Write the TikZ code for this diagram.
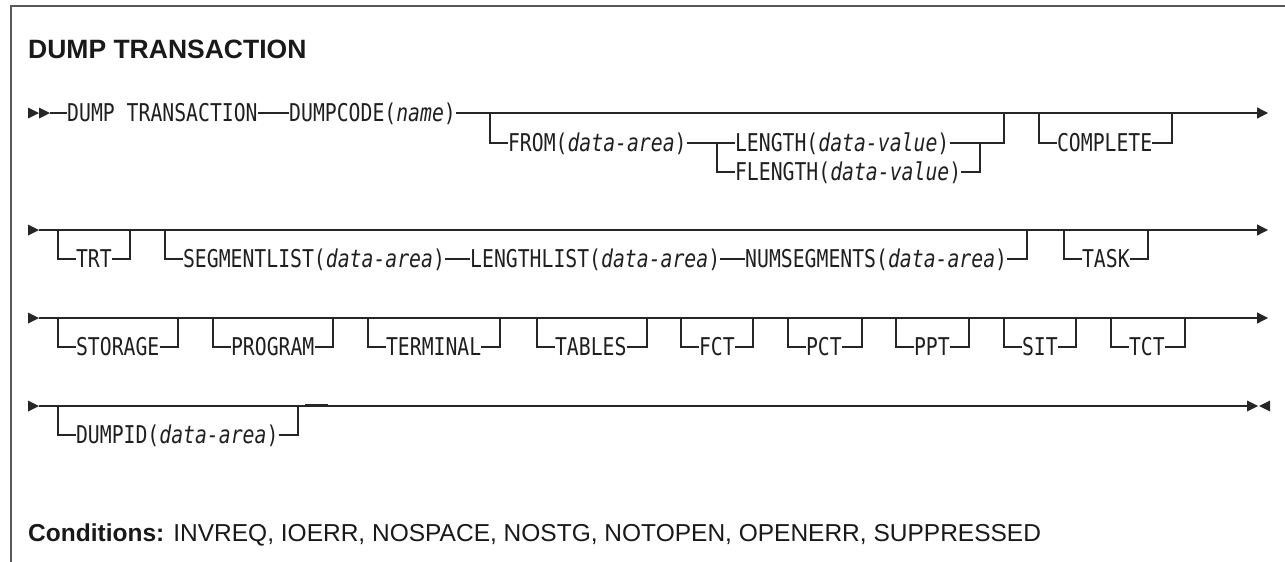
\documentclass[tikz,border=0pt]{standalone}
\usepackage{fontspec}
\setmainfont{Liberation Sans}
\newfontfamily\synfont[FakeStretch=0.807]{DejaVu Sans Mono}
\usetikzlibrary{arrows.meta}
\newcommand\railtri[2]{\fill[tipfill] (#1,#2-5.5) -- ++(11,5.5) -- ++(-11,5.5) -- cycle;}
\newcommand\railtrileft[2]{\fill[tipfill] (#1,#2-5.5) -- ++(-11,5.5) -- ++(11,5.5) -- cycle;}
\newcommand\optitem[6]{%
  \coordinate (#1L) at (#2,#4);
  \coordinate (#1R) at (#3,#4);
  \node[kw] (#1) at (#2+17.85,#5) {#6};
  \draw[rail] (#1L) |- (#1.west);
  \draw[rail] (#1.east) -| (#1R);
}
\begin{document}
\begin{tikzpicture}[x=1pt,y=-1pt,
  kw/.style={font=\synfont\fontsize{24.5}{24.5}\selectfont, inner sep=0pt, text height=17.9pt, text depth=0pt, anchor=west, text=black!88},
  rail/.style={line width=1.3pt, draw=black!85},
  endarrow/.style={-{Triangle[length=11pt,width=11pt]}},
  tipfill/.style={fill=black!85},
  sans/.style={anchor=base west, inner sep=0pt, text=black!90}
]
\useasboundingbox (0,0) rectangle (1285,562);
\draw[line width=2pt, draw=black!65] (1285,6) -- (11,6) -- (11,562);

\node[sans, font=\bfseries\fontsize{26.5}{26.5}\selectfont] (title) at (28,58) {DUMP TRANSACTION};

% ---------- row 1
\railtri{28}{113}\railtri{39}{113}
\coordinate (r1s) at (50,113);
\coordinate (r1e) at (1268,113);
\node[kw] (dt) at (67,113) {DUMP TRANSACTION};
\node[kw] (dc) at (289,113) {DUMPCODE(\textit{name})};
\draw[rail] (r1s) -- (dt.west);
\draw[rail] (dt.east) -- (dc.west);
\draw[rail, endarrow] (dc.east) -- (r1e);

\coordinate (f0) at (490,113);
\node[kw] (from) at (507.85,143) {FROM(\textit{data-area})};
\draw[rail] (f0) |- (from.west);
\coordinate (sp) at (717,143);
\node[kw] (len) at (734.85,143) {LENGTH(\textit{data-value})};
\node[kw] (flen) at (734.85,172) {FLENGTH(\textit{data-value})};
\draw[rail] (from.east) -- (len.west);
\draw[rail] (sp) |- (flen.west);
\coordinate (j1) at (1004,113);
\coordinate (j2) at (980,143);
\draw[rail] (len.east) -| (j1);
\draw[rail] (flen.east) -| (j2);

\optitem{comp}{1039}{1172}{113}{143}{COMPLETE}

% ---------- row 2
\railtri{28}{230}
\coordinate (r2s) at (39,230);
\coordinate (r2e) at (1268,230);
\draw[rail, endarrow] (r2s) -- (r2e);
\optitem{trt}{58}{130}{230}{259}{TRT}
\coordinate (sgL) at (165,230);
\node[kw] (sg) at (182.85,259) {SEGMENTLIST(\textit{data-area})};
\node[kw] (ll) at (470,259) {LENGTHLIST(\textit{data-area})};
\node[kw] (ns) at (745,259) {NUMSEGMENTS(\textit{data-area})};
\coordinate (sgR) at (1027,230);
\draw[rail] (sgL) |- (sg.west);
\draw[rail] (sg.east) -- (ll.west);
\draw[rail] (ll.east) -- (ns.west);
\draw[rail] (ns.east) -| (sgR);
\optitem{task}{1064}{1148}{230}{259}{TASK}

% ---------- row 3
\railtri{28}{318}
\coordinate (r3s) at (39,318);
\coordinate (r3e) at (1268,318);
\draw[rail, endarrow] (r3s) -- (r3e);
\optitem{stor}{58}{178}{318}{347}{STORAGE}
\optitem{prog}{213}{333}{318}{347}{PROGRAM}
\optitem{term}{368}{500}{318}{347}{TERMINAL}
\optitem{tabl}{537}{647}{318}{347}{TABLES}
\optitem{fct}{681}{753}{318}{347}{FCT}
\optitem{pct}{788}{862}{318}{347}{PCT}
\optitem{ppt}{896}{969}{318}{347}{PPT}
\optitem{sit}{1004}{1076}{318}{347}{SIT}
\optitem{tct}{1111}{1185}{318}{347}{TCT}

% ---------- row 4
\railtri{28}{406}
\coordinate (r4s) at (39,406);
\coordinate (r4e) at (1247,406);
\draw[rail] (r4s) -- (r4e);
\railtri{1247}{406}\railtrileft{1270}{406}
\optitem{dpid}{58}{298}{406}{435}{DUMPID(\textit{data-area})}
\coordinate (mk1) at (305,404.5);
\coordinate (mk2) at (328,404.5);
\draw[rail] (mk1) -- (mk2);

% ---------- conditions
\node[sans, font=\fontsize{24.5}{24.5}\selectfont] (cond) at (28,541)
  {\textbf{Conditions:} INVREQ, IOERR, NOSPACE, NOSTG, NOTOPEN, OPENERR, SUPPRESSED};
\end{tikzpicture}
\end{document}
